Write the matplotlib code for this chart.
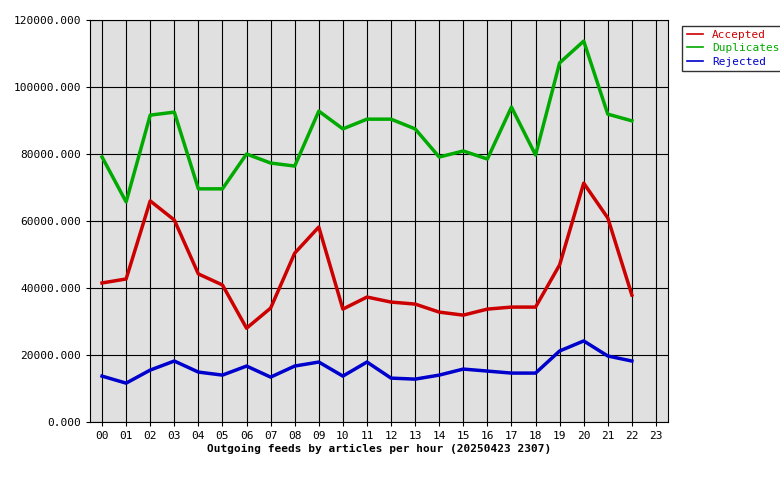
import matplotlib
matplotlib.use("Agg")
import matplotlib.pyplot as plt

hours = ["%02d" % h for h in range(24)]
accepted = [41500, 42700, 66000, 60300, 44200, 40900, 28000, 34000, 50400, 58200, 33700, 37300,
            35800, 35200, 32800, 31900, 33700, 34300, 34300, 46900, 71300, 60900, 37900]
duplicates = [79100, 65700, 91600, 92500, 69600, 69600, 80000, 77300, 76400, 92800, 87500, 90400,
              90400, 87500, 79100, 80900, 78500, 94000, 79700, 107200, 113700, 91900, 89900]
rejected = [13700, 11600, 15500, 18200, 14900, 14000, 16700, 13400, 16700, 17900, 13700, 17900,
            13100, 12800, 14000, 15800, 15200, 14600, 14600, 21200, 24200, 19700, 18200]
yticks = [0, 20000, 40000, 60000, 80000, 100000, 120000]

plt.rcParams['font.family'] = ['DejaVu Sans Mono']
plt.rcParams['font.size'] = 8
fig = plt.figure(figsize=(7.8, 4.8), dpi=100)
ax = fig.add_axes([90/780, 58/480, 578/780, 402/480])
ax.set_facecolor('#e0e0e0')
x = list(range(len(accepted)))
for vals, col, lab in [(accepted, '#cc0000', 'Accepted'), (duplicates, '#00aa00', 'Duplicates'),
                       (rejected, '#0000cc', 'Rejected')]:
    ax.plot(x, vals, color=col, lw=2.5, label=lab)
ax.set_xlim(-0.5, 23.5)
ax.set_ylim(0, 120000)
ax.set_xticks(range(24))
ax.set_xticklabels(hours)
ax.set_yticks(yticks)
ax.set_yticklabels(["%d.000" % v for v in yticks])
ax.grid(True, color='black', lw=0.8)
ax.set_axisbelow(True)
ax.tick_params(length=3)
ax.set_xlabel("Outgoing feeds by articles per hour (20250423 2307)", fontweight='bold', labelpad=2)
leg = ax.legend(loc='upper left', bbox_to_anchor=(1.015, 1.0), frameon=True, fancybox=False,
                edgecolor='black', handlelength=1.5, borderpad=0.4, labelspacing=0.3)
for t, c in zip(leg.get_texts(), ['#cc0000', '#00aa00', '#0000cc']):
    t.set_color(c)
for l in leg.get_lines():
    l.set_linewidth(1.2)
fig.savefig("out.png", dpi=100)
